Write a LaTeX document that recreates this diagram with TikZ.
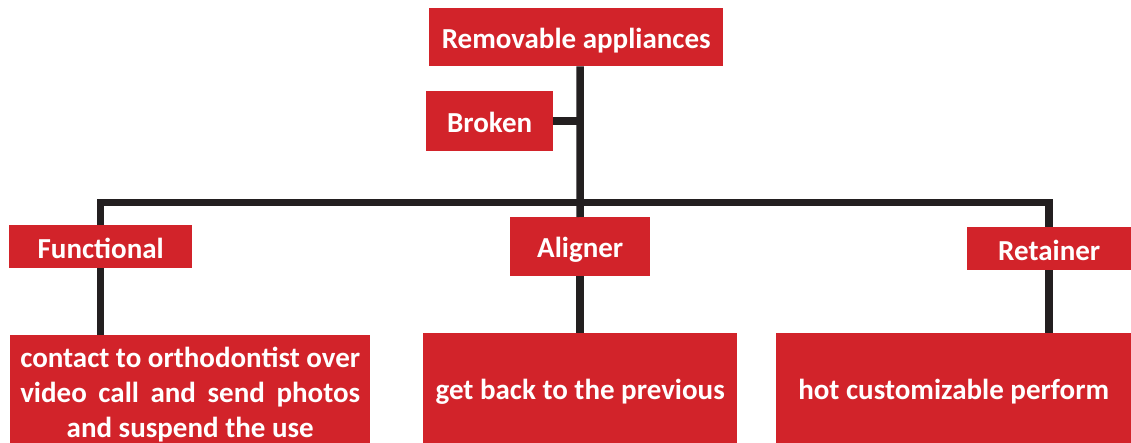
\documentclass[tikz,border=0pt]{standalone}
\usepackage{calc}
\usepackage{fontspec}
\setmainfont{Carlito}
\definecolor{boxred}{HTML}{D2232A}
\definecolor{linegray}{HTML}{231F20}
\tikzset{
  box/.style={fill=boxred, text=white, font=\bfseries\fontsize{29}{35}\selectfont, inner sep=0pt, anchor=north west, text height=23pt, text depth=0pt},
  conn/.style={draw=linegray, line width=7.5pt}
}
\begin{document}
\begin{tikzpicture}[x=1pt,y=-1pt]
\useasboundingbox (0,0) rectangle (1131,443);
\node[box, minimum width=294pt, minimum height=58pt] (root) at (429,8) {Removable appliances};
\node[box, minimum width=127pt, minimum height=60pt] (broken) at (426,91) {Broken};
\node[box, minimum width=183pt, minimum height=43pt] (func) at (9,225) {Functional};
\node[box, minimum width=140pt, minimum height=59pt, text height=22pt] (align) at (510,217) {Aligner};
\node[box, minimum width=164pt, minimum height=43pt] (ret) at (967,227) {Retainer};
\node[box, minimum width=360pt, minimum height=108pt, align=center, text height=96pt] (d1) at (10,335)
  {contact to orthodontist over\\
   \makebox[\widthof{contact to orthodontist over}][s]{video call and send photos}\\
   and suspend the use};
\node[box, minimum width=314pt, minimum height=110pt] (d2) at (423,333) {get back to the previous};
\node[box, minimum width=355pt, minimum height=110pt] (d3) at (776,333) {hot customizable perform};
\coordinate (bar) at (580,202.5);
\draw[conn] (root.south -| bar) -- (align.north);
\draw[conn] (broken.east) -- (broken.east -| bar);
\draw[conn] (func.north) |- (bar) -| (ret.north);
\draw[conn] (func.south) -- (func.south |- d1.north);
\draw[conn] (align.south) -- (align.south |- d2.north);
\draw[conn] (ret.south) -- (ret.south |- d3.north);
\end{tikzpicture}
\end{document}
